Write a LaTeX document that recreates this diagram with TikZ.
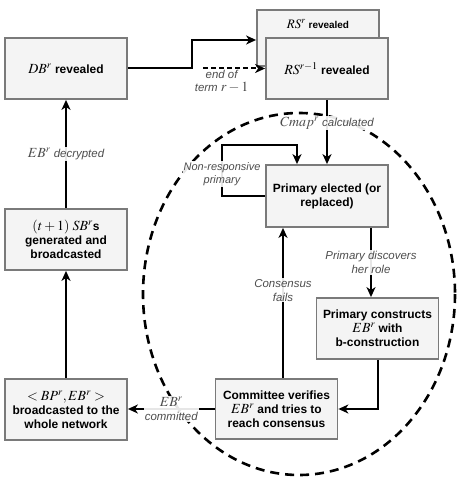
\documentclass[tikz,border=0pt]{standalone}
\usepackage{mathptmx}
\usepackage[no-math]{fontspec}
\setmainfont{Liberation Sans}
\usetikzlibrary{arrows.meta,calc}
\definecolor{boxfill}{HTML}{F4F4F4}
\definecolor{boxline}{HTML}{7A7A7A}
\definecolor{labgray}{HTML}{4D4D4D}
\newcommand\mx[1]{{\fontsize{14}{14}\selectfont$#1$}}
\newcommand\mxs[1]{{\fontsize{13}{12}\selectfont$#1$}}
\begin{document}
\begin{tikzpicture}[x=1bp,y=-1bp,
 box/.style={draw=boxline, fill=boxfill, line width=1.8bp, minimum width=122bp, minimum height=61bp, inner sep=2bp, align=center, font=\bfseries\fontsize{12}{14.2}\selectfont},
 arr/.style={draw=black, line width=2bp, -{Stealth[length=10bp,width=9bp,inset=3bp]}},
 lab/.style={font=\itshape\fontsize{11.5}{14}\selectfont, text=labgray, align=center, fill=white, fill opacity=0.9, text opacity=1, inner sep=1bp},
]
\useasboundingbox (0,0) rectangle (460,478);
\draw[line width=2.6bp, dash pattern=on 9bp off 6bp] (299,294) ellipse [x radius=156, y radius=181];

\node[box] (db) at (66,68.5) {\mx{DB^r} revealed};
\node[box, minimum height=56bp, label={[font=\bfseries\fontsize{10}{12}\selectfont, anchor=center, yshift=-15bp]north:{\mxs{RS^r} revealed}}] (rsr) at (318,38) {};
\node[box] (rs1) at (327,68.5) {\mx{RS^{r-1}} revealed};
\node[box, minimum height=62bp] (prim) at (327,196) {Primary elected (or\\replaced)};
\node[box] (cons) at (377.5,328.5) {Primary constructs\\\mx{EB^r} with\\b-construction};
\node[box, minimum height=60bp] (comm) at (276.5,409) {Committee verifies\\\mx{EB^r} and tries to\\reach consensus};
\node[box] (bp) at (66,409.5) {\mx{<BP^r,EB^r>}\\broadcasted to the\\whole network};
\node[box] (sb) at (66,239.5) {\mx{(t+1)\;SB^r}s\\generated and\\broadcasted};

\coordinate (k) at (192,40);
\coordinate (eot) at (203,68.5);
\coordinate (lp) at (297,0);
\coordinate (c371) at (371,0);
\coordinate (c283) at (283,0);

\draw[arr] (db.east) -| (k) -- (k -| rsr.west);
\draw[arr, dash pattern=on 5bp off 3bp] (eot) -- node[lab, fill=none, pos=0.3, below=0bp, font=\itshape\fontsize{11.5}{13}\selectfont] (l1) {end of\\term \mx{r-1}} (eot -| rs1.west);
\draw[arr] (rs1.south) -- node[lab, pos=0.36] (l2) {\mx{Cmap^r} calculated} (prim.north);
\draw[arr] (prim.west) -- (222,196) -- node[lab, pos=0.43, font=\itshape\fontsize{11}{13.5}\selectfont] (l3) {Non-responsive\\primary} (222,145) -- (297,145) -- (lp |- prim.north);
\draw[arr] (prim.south -| c371) -- node[lab] (l4) {Primary discovers\\her role} (cons.north -| c371);
\draw[arr] (cons.south) |- (comm.east);
\draw[arr] (comm.north -| c283) -- node[lab, pos=0.585] (l5) {Consensus\\fails} (prim.south -| c283);
\draw[arr] (comm.west) -- node[lab] (l6) {\mx{EB^r}\\committed} (comm.west -| bp.east);
\draw[arr] (bp.north) -- (sb.south);
\draw[arr] (sb.north) -- node[lab] (l7) {\mx{EB^r} decrypted} (db.south);
\end{tikzpicture}
\end{document}
